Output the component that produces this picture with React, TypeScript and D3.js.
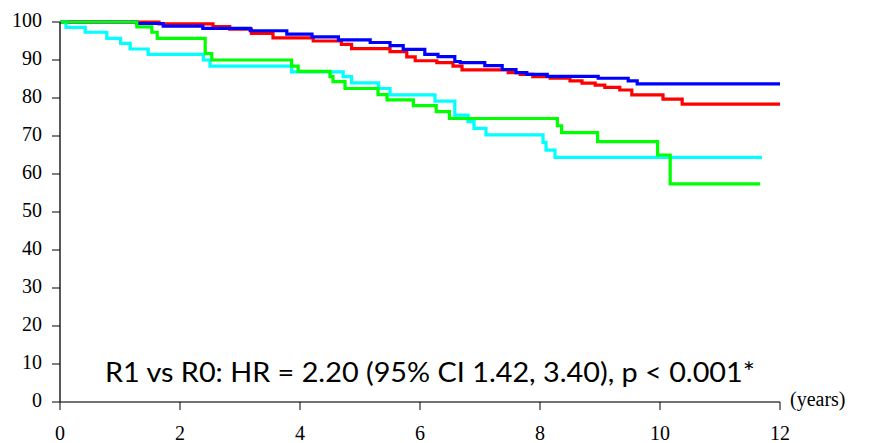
import React from "react";
import * as d3 from "d3";

const yTicks = [0, 10, 20, 30, 40, 50, 60, 70, 80, 90, 100];
const xTicks = [0, 2, 4, 6, 8, 10, 12];

const redTimes = [0, 1.65, 2.55, 2.83, 3.19, 3.55, 4.22, 4.69, 4.86, 5.5, 5.78, 5.92, 6.28, 6.55, 6.7, 7.47, 7.67, 7.88, 8.17, 8.5, 8.7, 8.92, 9.08, 9.33, 9.53, 10.05, 10.37];
const redSurv = [100, 99.5, 98.8, 98.1, 97.0, 95.8, 95.0, 94.1, 93.0, 92.2, 90.8, 89.8, 89.3, 88.4, 87.4, 86.7, 86.2, 85.6, 85.2, 84.5, 83.9, 83.4, 82.8, 82.1, 80.8, 79.7, 78.4];
const redEnd = 12;

const blueTimes = [0, 1.28, 1.72, 2.38, 3.17, 3.78, 4.2, 4.64, 5.17, 5.5, 5.72, 6.08, 6.3, 6.58, 6.67, 7.08, 7.37, 7.6, 7.78, 8.12, 8.97, 9.47, 9.62];
const blueSurv = [100, 99.6, 98.9, 98.3, 97.7, 96.8, 96.1, 95.3, 94.6, 93.8, 92.8, 91.5, 90.9, 89.6, 89.3, 88.5, 87.5, 86.7, 86.2, 85.7, 85.2, 84.5, 83.7];
const blueEnd = 12;

const greenTimes = [0, 1.28, 1.53, 1.62, 2.42, 2.53, 3.86, 3.97, 4.5, 4.55, 4.75, 5.3, 5.45, 5.89, 6.27, 6.49, 8.29, 8.36, 8.96, 9.96, 10.17];
const greenSurv = [100, 98.7, 97.3, 95.7, 91.7, 90.0, 88.4, 87.0, 85.6, 84.3, 82.5, 80.9, 79.5, 78.0, 76.4, 74.6, 72.7, 70.9, 68.5, 65.0, 57.4];
const greenEnd = 11.67;

const cyanTimes = [0, 0.1, 0.42, 0.78, 1.01, 1.17, 1.47, 2.39, 2.5, 3.86, 4.72, 4.86, 5.31, 5.5, 6.25, 6.58, 6.8, 6.9, 7.1, 8.05, 8.1, 8.25];
const cyanSurv = [100, 98.6, 97.3, 95.7, 94.4, 92.9, 91.5, 90.0, 88.4, 86.9, 85.6, 84.0, 82.5, 80.8, 79.2, 75.5, 73.8, 72.0, 70.3, 68.3, 66.3, 64.4];
const cyanEnd = 11.7;

const series = [
  { times: redTimes, surv: redSurv, end: redEnd, color: "#ff0000" },
  { times: blueTimes, surv: blueSurv, end: blueEnd, color: "#0000ff" },
  { times: cyanTimes, surv: cyanSurv, end: cyanEnd, color: "#00ffff" },
  { times: greenTimes, surv: greenSurv, end: greenEnd, color: "#00ff00" },
];

const annotation = "R1 vs R0: HR = 2.20 (95% CI 1.42, 3.40), p < 0.001*";

export default function App() {
  const W = 893, H = 443;
  const x = d3.scaleLinear().domain([0, 12]).range([60, 780]);
  const y = d3.scaleLinear().domain([0, 100]).range([402, 22]);
  const line = d3
    .line<[number, number]>()
    .x((d) => x(d[0]))
    .y((d) => y(d[1]))
    .curve(d3.curveStepAfter);
  const serif = "'Liberation Serif', 'Times New Roman', serif";
  return (
    <div style={{ position: "absolute", left: 0, top: 0 }}>
      <svg width={W} height={H} style={{ display: "block", background: "#fff" }}>
        {series.map((s, i) => {
          const pts: [number, number][] = s.times.map((t, j) => [t, s.surv[j]]);
          pts.push([s.end, s.surv[s.surv.length - 1]]);
          return (
            <path key={i} d={line(pts) || ""} fill="none" stroke={s.color} strokeWidth={3.2} />
          );
        })}
        {/* y axis */}
        <line x1={x(0)} x2={x(0)} y1={y(0)} y2={y(100)} stroke="#000" strokeWidth={1.3} />
        {yTicks.map((t) => (
          <g key={"y" + t}>
            <line x1={52} x2={x(0)} y1={y(t)} y2={y(t)} stroke="#000" strokeWidth={1} />
            <text x={42} y={y(t) + 5} textAnchor="end" fontFamily={serif} fontSize={20} fill="#000">
              {t}
            </text>
          </g>
        ))}
        {/* x axis */}
        <line x1={x(0)} x2={x(12)} y1={y(0)} y2={y(0)} stroke="#444" strokeWidth={1.3} />
        {xTicks.map((t) => (
          <g key={"x" + t}>
            <line x1={x(t)} x2={x(t)} y1={y(0)} y2={y(0) + 8} stroke="#000" strokeWidth={1} />
            <text x={x(t)} y={440} textAnchor="middle" fontFamily={serif} fontSize={20} fill="#000">
              {t}
            </text>
          </g>
        ))}
        <text x={790} y={406} fontFamily={serif} fontSize={20} fill="#000">
          (years)
        </text>
        <text
          x={105}
          y={382}
          fontFamily="Lato, 'Open Sans', sans-serif"
          fontSize={27}
          fill="#000"
          textLength={650}
          lengthAdjust="spacingAndGlyphs"
        >
          {annotation}
        </text>
      </svg>
    </div>
  );
}
